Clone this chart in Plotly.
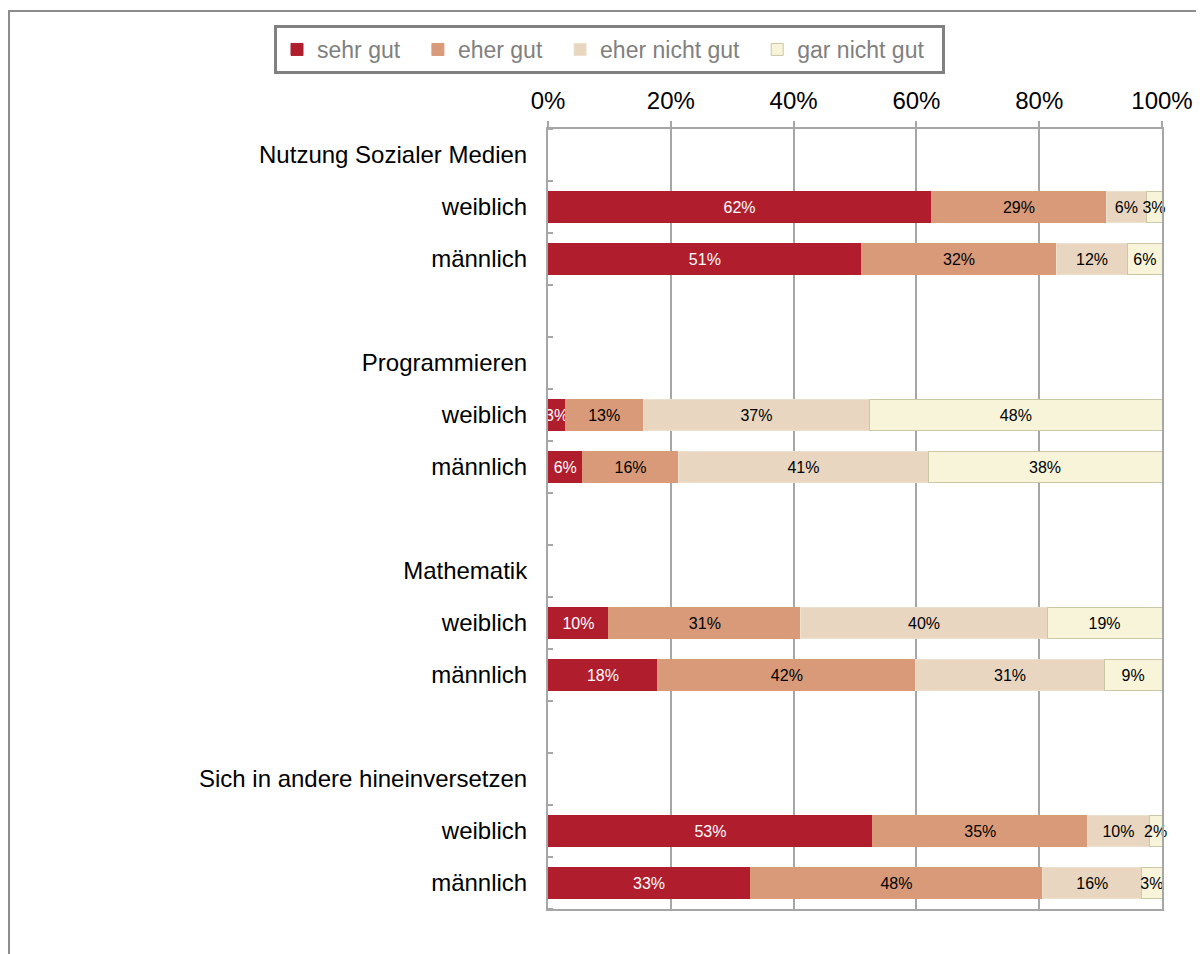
import plotly.graph_objects as go

topics = ['Nutzung Sozialer Medien', 'Programmieren', 'Mathematik', 'Sich in andere hineinversetzen']
genders = ['weiblich', 'männlich']
answers = ['sehr gut', 'eher gut', 'eher nicht gut', 'gar nicht gut']

# shares per bar, order: topic by topic, weiblich then männlich
sehr_gut = [0.624, 0.511, 0.028, 0.056, 0.099, 0.179, 0.529, 0.329]
eher_gut = [0.286, 0.317, 0.127, 0.157, 0.313, 0.420, 0.350, 0.477]
eher_nicht_gut = [0.064, 0.116, 0.369, 0.406, 0.401, 0.307, 0.100, 0.161]
gar_nicht_gut = [0.026, 0.056, 0.476, 0.381, 0.187, 0.094, 0.021, 0.033]

colors = ['#B01E2E', '#D89A78', '#E8D6C0', '#F7F4DA']
line_colors = ['#B01E2E', '#D89A78', '#EDDFCE', '#C9C7A6']
text_colors = ['white', 'black', 'black', 'black']

# row layout: header, weiblich, männlich, blank spacer
row_labels = []
bar_rows = []
for i, topic in enumerate(topics):
    row_labels.append(topic)
    for g in genders:
        bar_rows.append(len(row_labels))
        row_labels.append(g)
    if i < len(topics) - 1:
        row_labels.append('')

FONT = 'Liberation Sans, Arial, sans-serif'
GRID = '#A6A6A6'
NBSP = '\u00a0\u00a0'  # a bit of room after each legend entry

# page body has an 8px margin, so the figure is laid out 8px up/left
L, R, T, B = 540, 50, 121, 53
PW = 1204 - L - R
PH = 954 - T - B


def px_x(fx):
    return (fx - L) / PW


def px_y(fy):
    return (PH + T - fy) / PH


fig = go.Figure()
for name, vals, col, lc, tc in zip(answers, [sehr_gut, eher_gut, eher_nicht_gut, gar_nicht_gut],
                                   colors, line_colors, text_colors):
    fig.add_bar(
        x=vals,
        y=bar_rows,
        orientation='h',
        name=name + NBSP,
        width=0.58,
        marker=dict(color=col, line=dict(color=lc, width=1)),
        texttemplate='%{x:.0%}',
        textposition='inside',
        insidetextanchor='middle',
        constraintext='none',
        textangle=0,
        textfont=dict(color=tc, size=16, family=FONT),
        cliponaxis=False,
    )

fig.update_layout(
    barmode='stack',
    width=1204,
    height=954,
    margin=dict(l=L, r=R, t=T, b=B),
    paper_bgcolor='white',
    plot_bgcolor='white',
    font=dict(family=FONT, size=24, color='black'),
    showlegend=True,
    legend=dict(
        orientation='h',
        x=px_x(266),
        xanchor='left',
        y=px_y(17),
        yanchor='top',
        bordercolor='#808080',
        borderwidth=3,
        font=dict(size=23, color='#808080', family=FONT),
        traceorder='normal',
        itemwidth=30,
    ),
    xaxis=dict(
        side='top',
        range=[0, 1],
        dtick=0.2,
        tickformat='.0%',
        showgrid=True,
        gridcolor=GRID,
        gridwidth=1.5,
        ticks='outside',
        ticklen=6,
        tickcolor=GRID,
        tickwidth=1.5,
        showline=True,
        linecolor=GRID,
        linewidth=2,
        mirror=True,
        zeroline=False,
        ticklabelstandoff=2,
    ),
    yaxis=dict(
        range=[len(row_labels) - 0.5, -0.5],
        tickmode='array',
        tickvals=list(range(len(row_labels))),
        ticktext=row_labels,
        ticks='',
        showgrid=False,
        zeroline=False,
        showline=True,
        linecolor=GRID,
        linewidth=2,
        mirror=True,
        ticklabelstandoff=14,
        minor=dict(tickmode='linear', tick0=0.5, dtick=1, ticks='inside',
                   ticklen=5, tickcolor=GRID, tickwidth=1.5, showgrid=False),
    ),
)

# outer chart frame (runs off the right and bottom edge)
fig.add_shape(
    type='rect', xref='paper', yref='paper',
    x0=px_x(1), x1=px_x(1260),
    y0=px_y(1000), y1=px_y(3),
    line=dict(color='#8C8C8C', width=2),
    layer='below',
)

fig.write_html('out.html')
